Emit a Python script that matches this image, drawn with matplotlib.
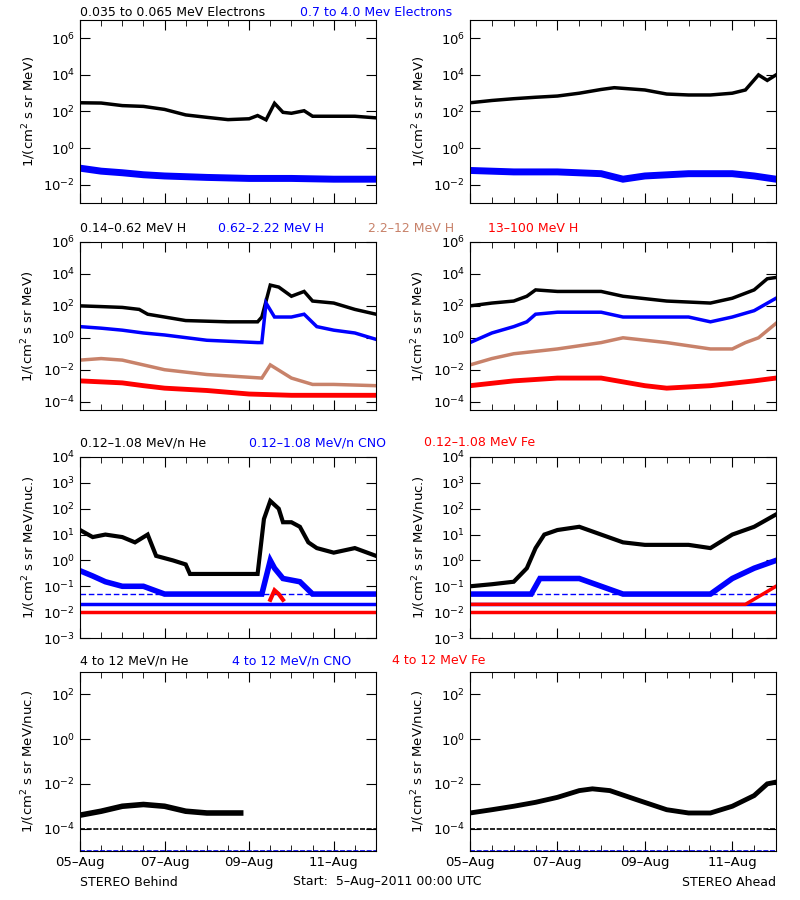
import numpy as np
import matplotlib.pyplot as plt
from matplotlib.ticker import FixedLocator, NullFormatter

BLK, BLU, BRN, RED = "black", "#0000ff", "#c8826a", "#ff0000"

# ---- data: (day since 5-Aug-2011 00:00, flux) key points ----
# Row 1: electrons
eb_lo_t = [0, .5, 1, 1.5, 2, 2.5, 3, 3.5, 4, 4.2, 4.4, 4.6, 4.8, 5, 5.3, 5.5, 6, 6.5, 7]
eb_lo_v = [300, 290, 210, 190, 130, 65, 48, 36, 40, 60, 35, 280, 90, 80, 110, 55, 55, 55, 45]
eb_hi_t = [0, .5, 1, 1.5, 2, 3, 4, 5, 6, 7]
eb_hi_v = [.08, .055, .045, .035, .03, .025, .022, .022, .02, .02]
ea_lo_t = [0, .5, 1, 1.5, 2, 2.5, 3, 3.3, 4, 4.5, 5, 5.5, 6, 6.3, 6.6, 6.8, 7]
ea_lo_v = [300, 400, 500, 600, 700, 1000, 1600, 2000, 1500, 900, 800, 800, 1000, 1500, 1e4, 5e3, 1e4]
ea_hi_t = [0, 1, 2, 3, 3.5, 4, 5, 6, 6.5, 7]
ea_hi_v = [.06, .05, .05, .04, .02, .03, .04, .04, .03, .02]

# Row 2: protons
hb1_t = [0, .5, 1, 1.4, 1.6, 2, 2.5, 3.5, 4.2, 4.3, 4.5, 4.7, 5, 5.3, 5.5, 6, 6.5, 7]
hb1_v = [100, 90, 80, 60, 30, 20, 12, 10, 10, 20, 2000, 1500, 400, 800, 200, 150, 60, 30]
hb2_t = [0, .5, 1, 1.5, 2, 3, 4.2, 4.3, 4.4, 4.6, 5, 5.3, 5.6, 6, 6.5, 7]
hb2_v = [5, 4, 3, 2, 1.5, .7, .5, .5, 150, 20, 20, 30, 5, 3, 2, .8]
hb3_t = [0, .5, 1, 1.5, 2, 3, 4.3, 4.5, 5, 5.5, 6, 7]
hb3_v = [.04, .05, .04, .02, .01, .005, .003, .02, .003, .0012, .0012, .001]
hb4_t = [0, 1, 1.5, 2, 3, 4, 5, 6, 7]
hb4_v = [.002, .0015, .001, 7e-4, 5e-4, 3e-4, 2.5e-4, 2.5e-4, 2.5e-4]
ha1_t = [0, .5, 1, 1.3, 1.5, 2, 3, 3.5, 4.5, 5.5, 6, 6.5, 6.8, 7]
ha1_v = [100, 150, 200, 400, 1000, 800, 800, 400, 200, 150, 300, 1000, 5e3, 6e3]
ha2_t = [0, .5, 1, 1.3, 1.5, 2, 3, 3.5, 5, 5.5, 6, 6.5, 7]
ha2_v = [.5, 2, 5, 10, 30, 40, 40, 20, 20, 10, 20, 50, 300]
ha3_t = [0, .5, 1, 2, 3, 3.5, 4.5, 5.5, 6, 6.3, 6.6, 7]
ha3_v = [.02, .05, .1, .2, .5, 1, .5, .2, .2, .5, 1, 8]
ha4_t = [0, 1, 2, 3, 4, 4.5, 5.5, 6.5, 7]
ha4_v = [.001, .002, .003, .003, .001, 7e-4, .001, .002, .003]

# Row 3: 0.12-1.08 MeV/n ions
heb_t = [0, .3, .6, 1, 1.3, 1.6, 1.8, 2.2, 2.5, 2.6, 3.5, 4.2, 4.35, 4.5, 4.7, 4.8, 5, 5.2, 5.4, 5.6, 6, 6.5, 7]
heb_v = [15, 8, 10, 8, 5, 10, 1.5, 1, .7, .3, .3, .3, 40, 200, 100, 30, 30, 20, 5, 3, 2, 3, 1.5]
cnob_t = [0, .3, .6, 1, 1.5, 2, 4.3, 4.5, 4.6, 4.8, 5.2, 5.5, 7]
cnob_v = [.4, .25, .15, .1, .1, .05, .05, 1, .5, .2, .15, .05, .05]
hea_t = [0, .5, 1, 1.3, 1.5, 1.7, 2, 2.5, 3, 3.5, 4, 5, 5.5, 6, 6.5, 7]
hea_v = [.1, .12, .15, .5, 3, 10, 15, 20, 10, 5, 4, 4, 3, 10, 20, 60]
cnoa_t = [0, 1.4, 1.6, 2.5, 3, 3.5, 5.5, 6, 6.5, 7]
cnoa_v = [.05, .05, .2, .2, .1, .05, .05, .2, .5, 1]
fea_t = [0, 6.3, 6.7, 7]
fea_v = [.02, .02, .05, .1]
feb_t = [4.5, 4.6, 4.7, 4.8]
feb_v = [.03, .07, .05, .03]

# Row 4: 4-12 MeV/n ions
he4b_t = [0, .5, 1, 1.5, 2, 2.5, 3, 3.5, 3.8]
he4b_v = [4e-4, 6e-4, 1e-3, 1.2e-3, 1e-3, 6e-4, 5e-4, 5e-4, 5e-4]
he4a_t = [0, .5, 1, 1.5, 2, 2.5, 2.8, 3.2, 3.8, 4.5, 5, 5.5, 6, 6.5, 6.8, 7]
he4a_v = [5e-4, 7e-4, 1e-3, 1.5e-3, 2.5e-3, 5e-3, 6e-3, 5e-3, 2e-3, 7e-4, 5e-4, 5e-4, 1e-3, 3e-3, 1e-2, 1.2e-2]

# background floor levels per row
floor_r3 = [(.02, BLU), (.01, RED)]
floor_r4 = [(1e-4, BLK), (1e-5, BLU)]

ylims = [(1e-3, 1e7), (3e-5, 1e6), (1e-3, 1e4), (1e-5, 1e3)]
yticks = [[1e-2, 1, 1e2, 1e4, 1e6], [1e-4, 1e-2, 1, 1e2, 1e4, 1e6],
          [10.0 ** k for k in range(-3, 5)], [1e-4, 1e-2, 1, 1e2]]
ylabels = ["1/(cm$^2$ s sr MeV)", "1/(cm$^2$ s sr MeV)",
           "1/(cm$^2$ s sr MeV/nuc.)", "1/(cm$^2$ s sr MeV/nuc.)"]

# panel boxes in pixels (x0, y0, x1, y1)
cols = [(80, 376), (470, 776)]
rows = [(20, 203), (242, 410), (457, 638), (672, 851)]

fig = plt.figure(figsize=(8, 9), dpi=100)
axes = []
for r, (y0, y1) in enumerate(rows):
    for c, (x0, x1) in enumerate(cols):
        ax = fig.add_axes([x0 / 800, 1 - y1 / 900, (x1 - x0) / 800, (y1 - y0) / 900])
        ax.set_yscale("log")
        ax.set_ylim(*ylims[r])
        ax.set_xlim(0, 7)
        ax.yaxis.set_major_locator(FixedLocator(yticks[r]))
        ax.yaxis.set_minor_locator(FixedLocator([]))
        ax.xaxis.set_major_locator(FixedLocator([0, 2, 4, 6]))
        ax.xaxis.set_minor_locator(FixedLocator(np.arange(0, 7.01, 0.5)))
        ax.tick_params(which="both", direction="in", top=True, right=True, labelsize=9.5)
        ax.tick_params(which="major", length=7)
        ax.tick_params(which="minor", length=4)
        ax.set_ylabel(ylabels[r], fontsize=9.5)
        if r == 3:
            ax.set_xticklabels(["05\u2013Aug", "07\u2013Aug", "09\u2013Aug", "11\u2013Aug"])
        else:
            ax.xaxis.set_major_formatter(NullFormatter())
        axes.append(ax)

def trace(ax, t, v, color, lw=2.5):
    ax.plot(t, v, color=color, lw=lw, solid_joinstyle="miter")

a = axes
trace(a[0], eb_lo_t, eb_lo_v, BLK); trace(a[0], eb_hi_t, eb_hi_v, BLU, 5)
trace(a[1], ea_lo_t, ea_lo_v, BLK); trace(a[1], ea_hi_t, ea_hi_v, BLU, 5)
for t, v, col in [(hb1_t, hb1_v, BLK), (hb2_t, hb2_v, BLU), (hb3_t, hb3_v, BRN), (hb4_t, hb4_v, RED)]:
    trace(a[2], t, v, col, 3.5 if col == RED else 2.5)
for t, v, col in [(ha1_t, ha1_v, BLK), (ha2_t, ha2_v, BLU), (ha3_t, ha3_v, BRN), (ha4_t, ha4_v, RED)]:
    trace(a[3], t, v, col, 3.5 if col == RED else 2.5)
for ax in (a[4], a[5]):
    for lvl, col in floor_r3:
        ax.plot([0, 7], [lvl, lvl], color=col, lw=2.5)
    ax.plot([0, 7], [.05, .05], color=BLU, lw=1, ls=(0, (4, 2)))
trace(a[4], cnob_t, cnob_v, BLU, 4); trace(a[4], heb_t, heb_v, BLK, 3)
trace(a[4], feb_t, feb_v, RED, 3)
trace(a[5], cnoa_t, cnoa_v, BLU, 4); trace(a[5], fea_t, fea_v, RED, 2.5)
trace(a[5], hea_t, hea_v, BLK, 3)
for ax in (a[6], a[7]):
    for lvl, col in floor_r4:
        ax.plot([0, 7], [lvl, lvl], color=col, lw=1.2, ls=(0, (3, 1)))
trace(a[6], he4b_t, he4b_v, BLK, 4)
trace(a[7], he4a_t, he4a_v, BLK, 3.5)

def ftext(x, y, s, color=BLK, ha="left"):
    fig.text(x / 800, 1 - y / 900, s, color=color, ha=ha, va="center", fontsize=9)

ftext(80, 13, "0.035 to 0.065 MeV Electrons"); ftext(300, 13, "0.7 to 4.0 Mev Electrons", BLU)
ftext(80, 228, "0.14\u20130.62 MeV H"); ftext(218, 228, "0.62\u20132.22 MeV H", BLU)
ftext(368, 228, "2.2\u201312 MeV H", BRN); ftext(488, 228, "13\u2013100 MeV H", RED)
ftext(80, 443, "0.12\u20131.08 MeV/n He"); ftext(249, 443, "0.12\u20131.08 MeV/n CNO", BLU)
ftext(424, 443, "0.12\u20131.08 MeV Fe", RED)
ftext(80, 661, "4 to 12 MeV/n He"); ftext(232, 661, "4 to 12 MeV/n CNO", BLU)
ftext(392, 661, "4 to 12 MeV Fe", RED)
ftext(80, 882, "STEREO Behind"); ftext(293, 882, "Start:  5\u2013Aug\u20132011 00:00 UTC")
ftext(776, 882, "STEREO Ahead", ha="right")

fig.savefig("out.png", dpi=100)
